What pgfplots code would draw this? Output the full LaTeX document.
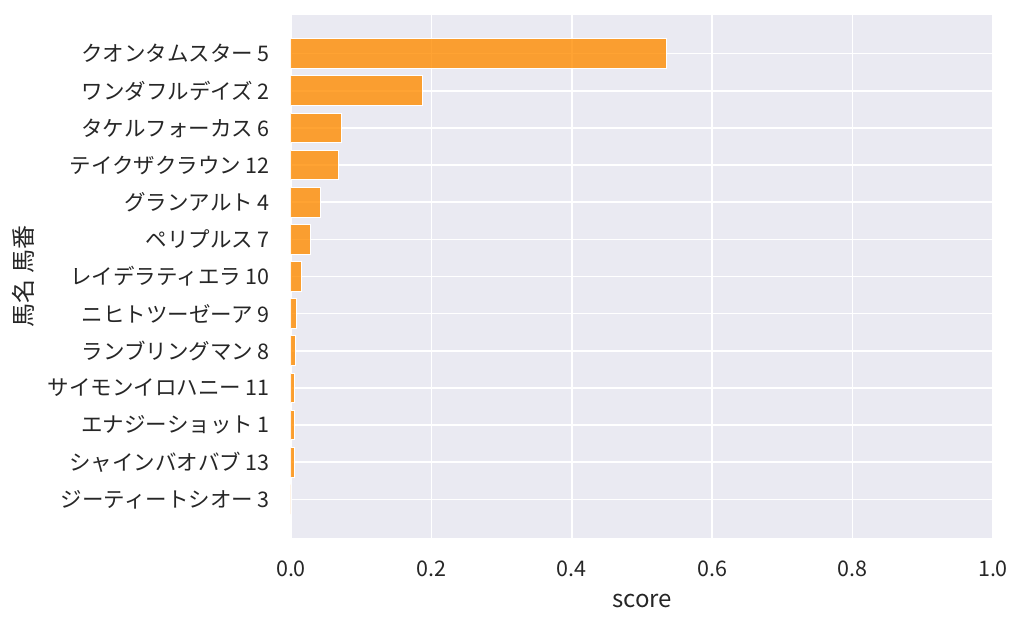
\documentclass[border=0pt]{standalone}
\usepackage{pgfplots}
\pgfplotsset{compat=1.18}
\usepackage{fontspec}
\setmainfont{Noto Sans CJK JP}
\definecolor{bgc}{HTML}{EAEAF2}
\definecolor{barc}{HTML}{FF8C00}
\definecolor{txt}{HTML}{262626}
\begin{document}
\begin{tikzpicture}
\useasboundingbox (-291bp,-89bp) rectangle (733bp,538bp);
\begin{axis}[
  at={(0,0)}, anchor=south west,
  width=702bp, height=523bp, scale only axis,
  xmin=0, xmax=1,
  ymin=-1.04, ymax=13.04, y dir=reverse,
  xtick={0,0.2,0.4,0.6,0.8,1.0},
  xticklabels={0.0,0.2,0.4,0.6,0.8,1.0},
  ytick={0,...,12},
  yticklabels={クオンタムスター 5,ワンダフルデイズ 2,タケルフォーカス 6,テイクザクラウン 12,グランアルト 4,ペリプルス 7,レイデラティエラ 10,ニヒトツーゼーア 9,ランブリングマン 8,サイモンイロハニー 11,エナジーショット 1,シャインバオバブ 13,ジーティートシオー 3},
  major tick length=0,
  axis line style={draw=none},
  axis background/.style={fill=bgc},
  grid=major,
  major grid style={white, line width=1.5bp},
  axis on top=false,
  tick label style={font=\fontsize{21.5bp}{26bp}\selectfont, text=txt},
  /pgf/number format/assume math mode=true,
  yticklabel style={anchor=east, inner sep=0pt, xshift=-21bp},
  xticklabel style={anchor=base, inner sep=0pt, yshift=-38bp},
  xlabel={score},
  ylabel={馬名 馬番},
  label style={font=\fontsize{24bp}{28bp}\selectfont, text=txt},
  xlabel style={at={(axis description cs:0.5,-0.1338)}, anchor=base, inner sep=0pt},
  ylabel style={at={(axis description cs:-0.3818,0.5)}, anchor=center, inner sep=0pt},
  xbar, bar width=0.8,
]
\addplot[fill=barc, fill opacity=0.8, draw=white, line width=1bp] table[x=v, y=i] {
i v
0 0.535
1 0.1876
2 0.0722
3 0.068
4 0.0423
5 0.0275
6 0.0152
7 0.0076
8 0.0062
9 0.0047
10 0.0047
11 0.0047
12 0.0008
};
\end{axis}
\end{tikzpicture}
\end{document}
